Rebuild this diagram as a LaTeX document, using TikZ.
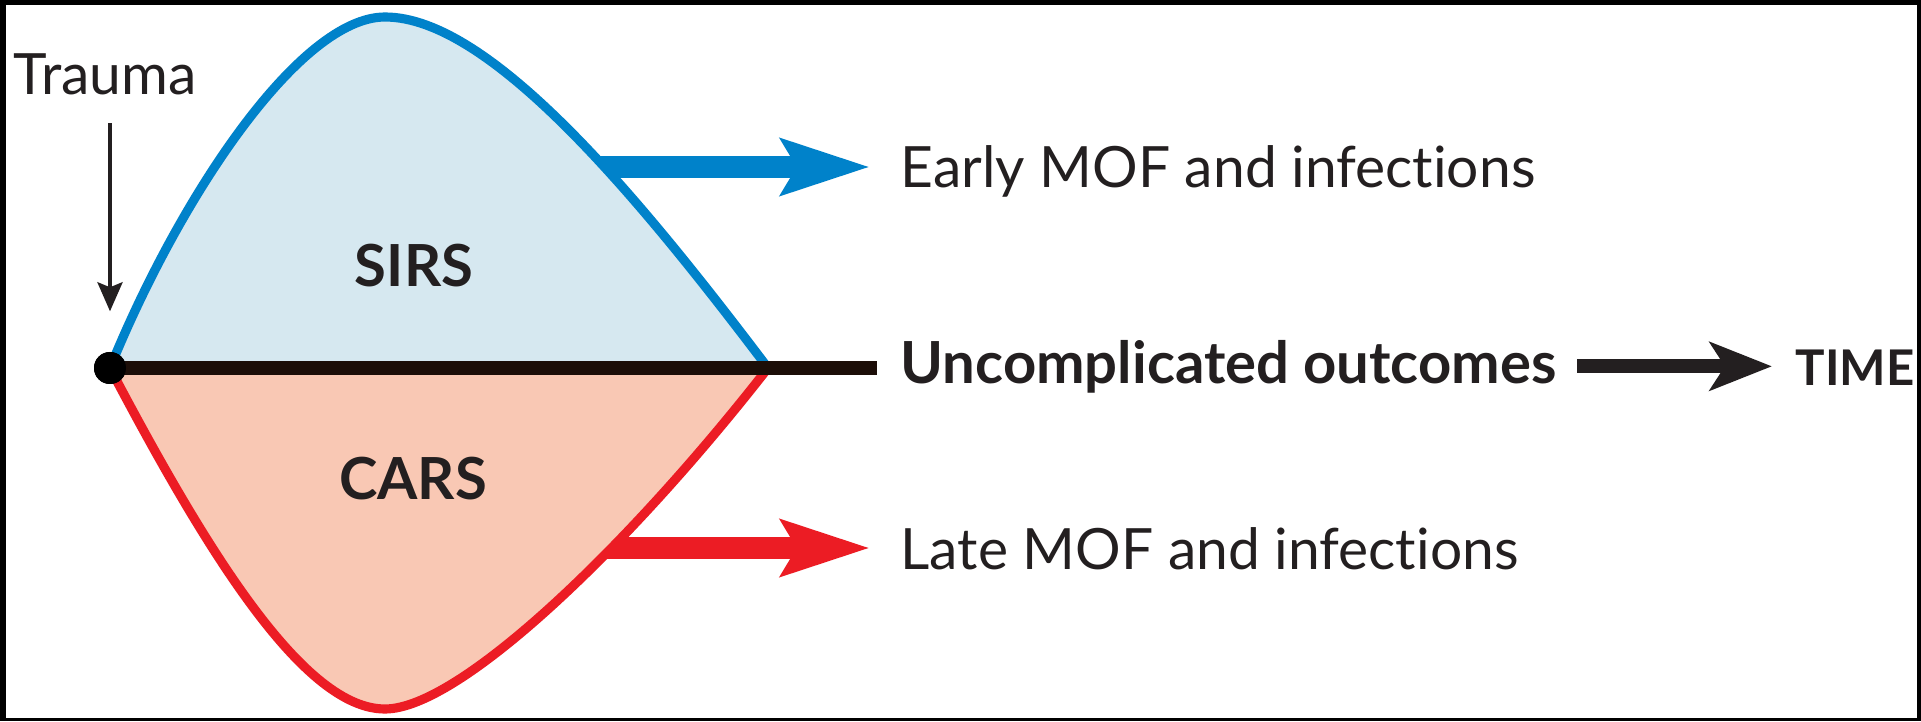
\documentclass[tikz,border=0pt]{standalone}
\usepackage{fontspec}
\setmainfont{Lato}[Ligatures={NoCommon,NoContextual}]
\usepackage{xcolor}
\usepackage{tikz}
\usetikzlibrary{arrows.meta}
\usetikzlibrary{positioning,calc}

\definecolor{sirsline}{HTML}{0082CA}
\definecolor{sirsfill}{HTML}{D6E8F0}
\definecolor{carsline}{HTML}{EC1C24}
\definecolor{carsfill}{HTML}{F9C8B4}
\definecolor{ink}{HTML}{231F20}
\definecolor{axisline}{HTML}{1C0E08}

\begin{document}
\begin{tikzpicture}[
		lbl/.style={inner sep=0pt, text=ink, font=\fontsize{16.2}{20}\selectfont},
		boldlbl/.style={lbl, font=\fontsize{16.5}{20}\selectfont\bfseries},
		bigarrow/.style={line width=6.5pt, -{Stealth[length=8.8mm, width=5.5mm, inset=1.5mm]}},
		thinarrow/.style={line width=1.1pt, -{Stealth[length=2.9mm, width=2.5mm, inset=0.5mm]}},
		curve/.style={line width=2.6pt, line join=round}
	]
		% frame
		\fill[black] (0,0) rectangle (19.21,7.21);
		\fill[white] (0.06,0.03) rectangle (19.17,7.16);

		% outcome arrows, their feet are hidden under the areas
		\coordinate (earlyfoot) at (5.80,5.54);
		\coordinate (latefoot) at (5.90,1.73);
		\node[lbl, anchor=base west] (early) at (9.00,5.33) {Early MOF and infections};
		\node[lbl, anchor=base west] (late) at (9.00,1.52) {Late MOF and infections};
		\draw[bigarrow, sirsline, shorten >=3mm] (earlyfoot) -- (earlyfoot -| early.west);
		\draw[bigarrow, carsline, shorten >=3mm] (latefoot) -- (latefoot -| late.west);

		% SIRS and CARS areas
		\fill[sirsfill] (1.10,3.53) .. controls (1.80,5.25) and (3.00,7.04) .. (3.85,7.04)
			.. controls (4.90,7.04) and (6.38,5.25) .. (7.68,3.53) -- cycle;
		\fill[carsfill] (1.10,3.53) .. controls (2.10,1.63) and (3.05,0.12) .. (3.85,0.12)
			.. controls (4.60,0.12) and (6.30,1.76) .. (7.68,3.53) -- cycle;
		\draw[curve, sirsline] (1.10,3.53) .. controls (1.80,5.25) and (3.00,7.04) .. (3.85,7.04)
			.. controls (4.90,7.04) and (6.38,5.25) .. (7.68,3.53);
		\draw[curve, carsline] (1.10,3.53) .. controls (2.10,1.63) and (3.05,0.12) .. (3.85,0.12)
			.. controls (4.60,0.12) and (6.30,1.76) .. (7.68,3.53);

		% time axis
		\node[circle, fill=black, inner sep=0pt, minimum size=3.2mm] (onset) at (1.10,3.53) {};
		\coordinate (axisend) at (8.77,3.53);
		\draw[line width=3.7pt, axisline] (onset.center) -- (axisend);
		\node[circle, fill=black, inner sep=0pt, minimum size=3.2mm] at (onset) {};

		\node[boldlbl, anchor=base west] (uncomp) at (9.00,3.38) {Uncomplicated outcomes};
		\node[lbl, anchor=base west, font=\fontsize{14}{17}\selectfont\bfseries] (time) at (17.95,3.36) {TIME};
		\draw[line width=4pt, ink, -{Stealth[length=6.2mm, width=4.8mm, inset=1.5mm]},
			shorten <=2mm, shorten >=2.3mm] (uncomp.east) -- (uncomp.east -| time.west);

		% labels
		\node[lbl, anchor=base west] (trauma) at (0.13,6.26) {Trauma};
		\draw[thinarrow, ink, shorten <=2.7mm, shorten >=4mm] (trauma.south -| onset) -- (onset.north);
		\node[boldlbl, anchor=base] (sirs) at (4.14,4.34) {SIRS};
		\node[boldlbl, anchor=base] (cars) at (4.13,2.21) {CARS};
	\end{tikzpicture}
\end{document}
